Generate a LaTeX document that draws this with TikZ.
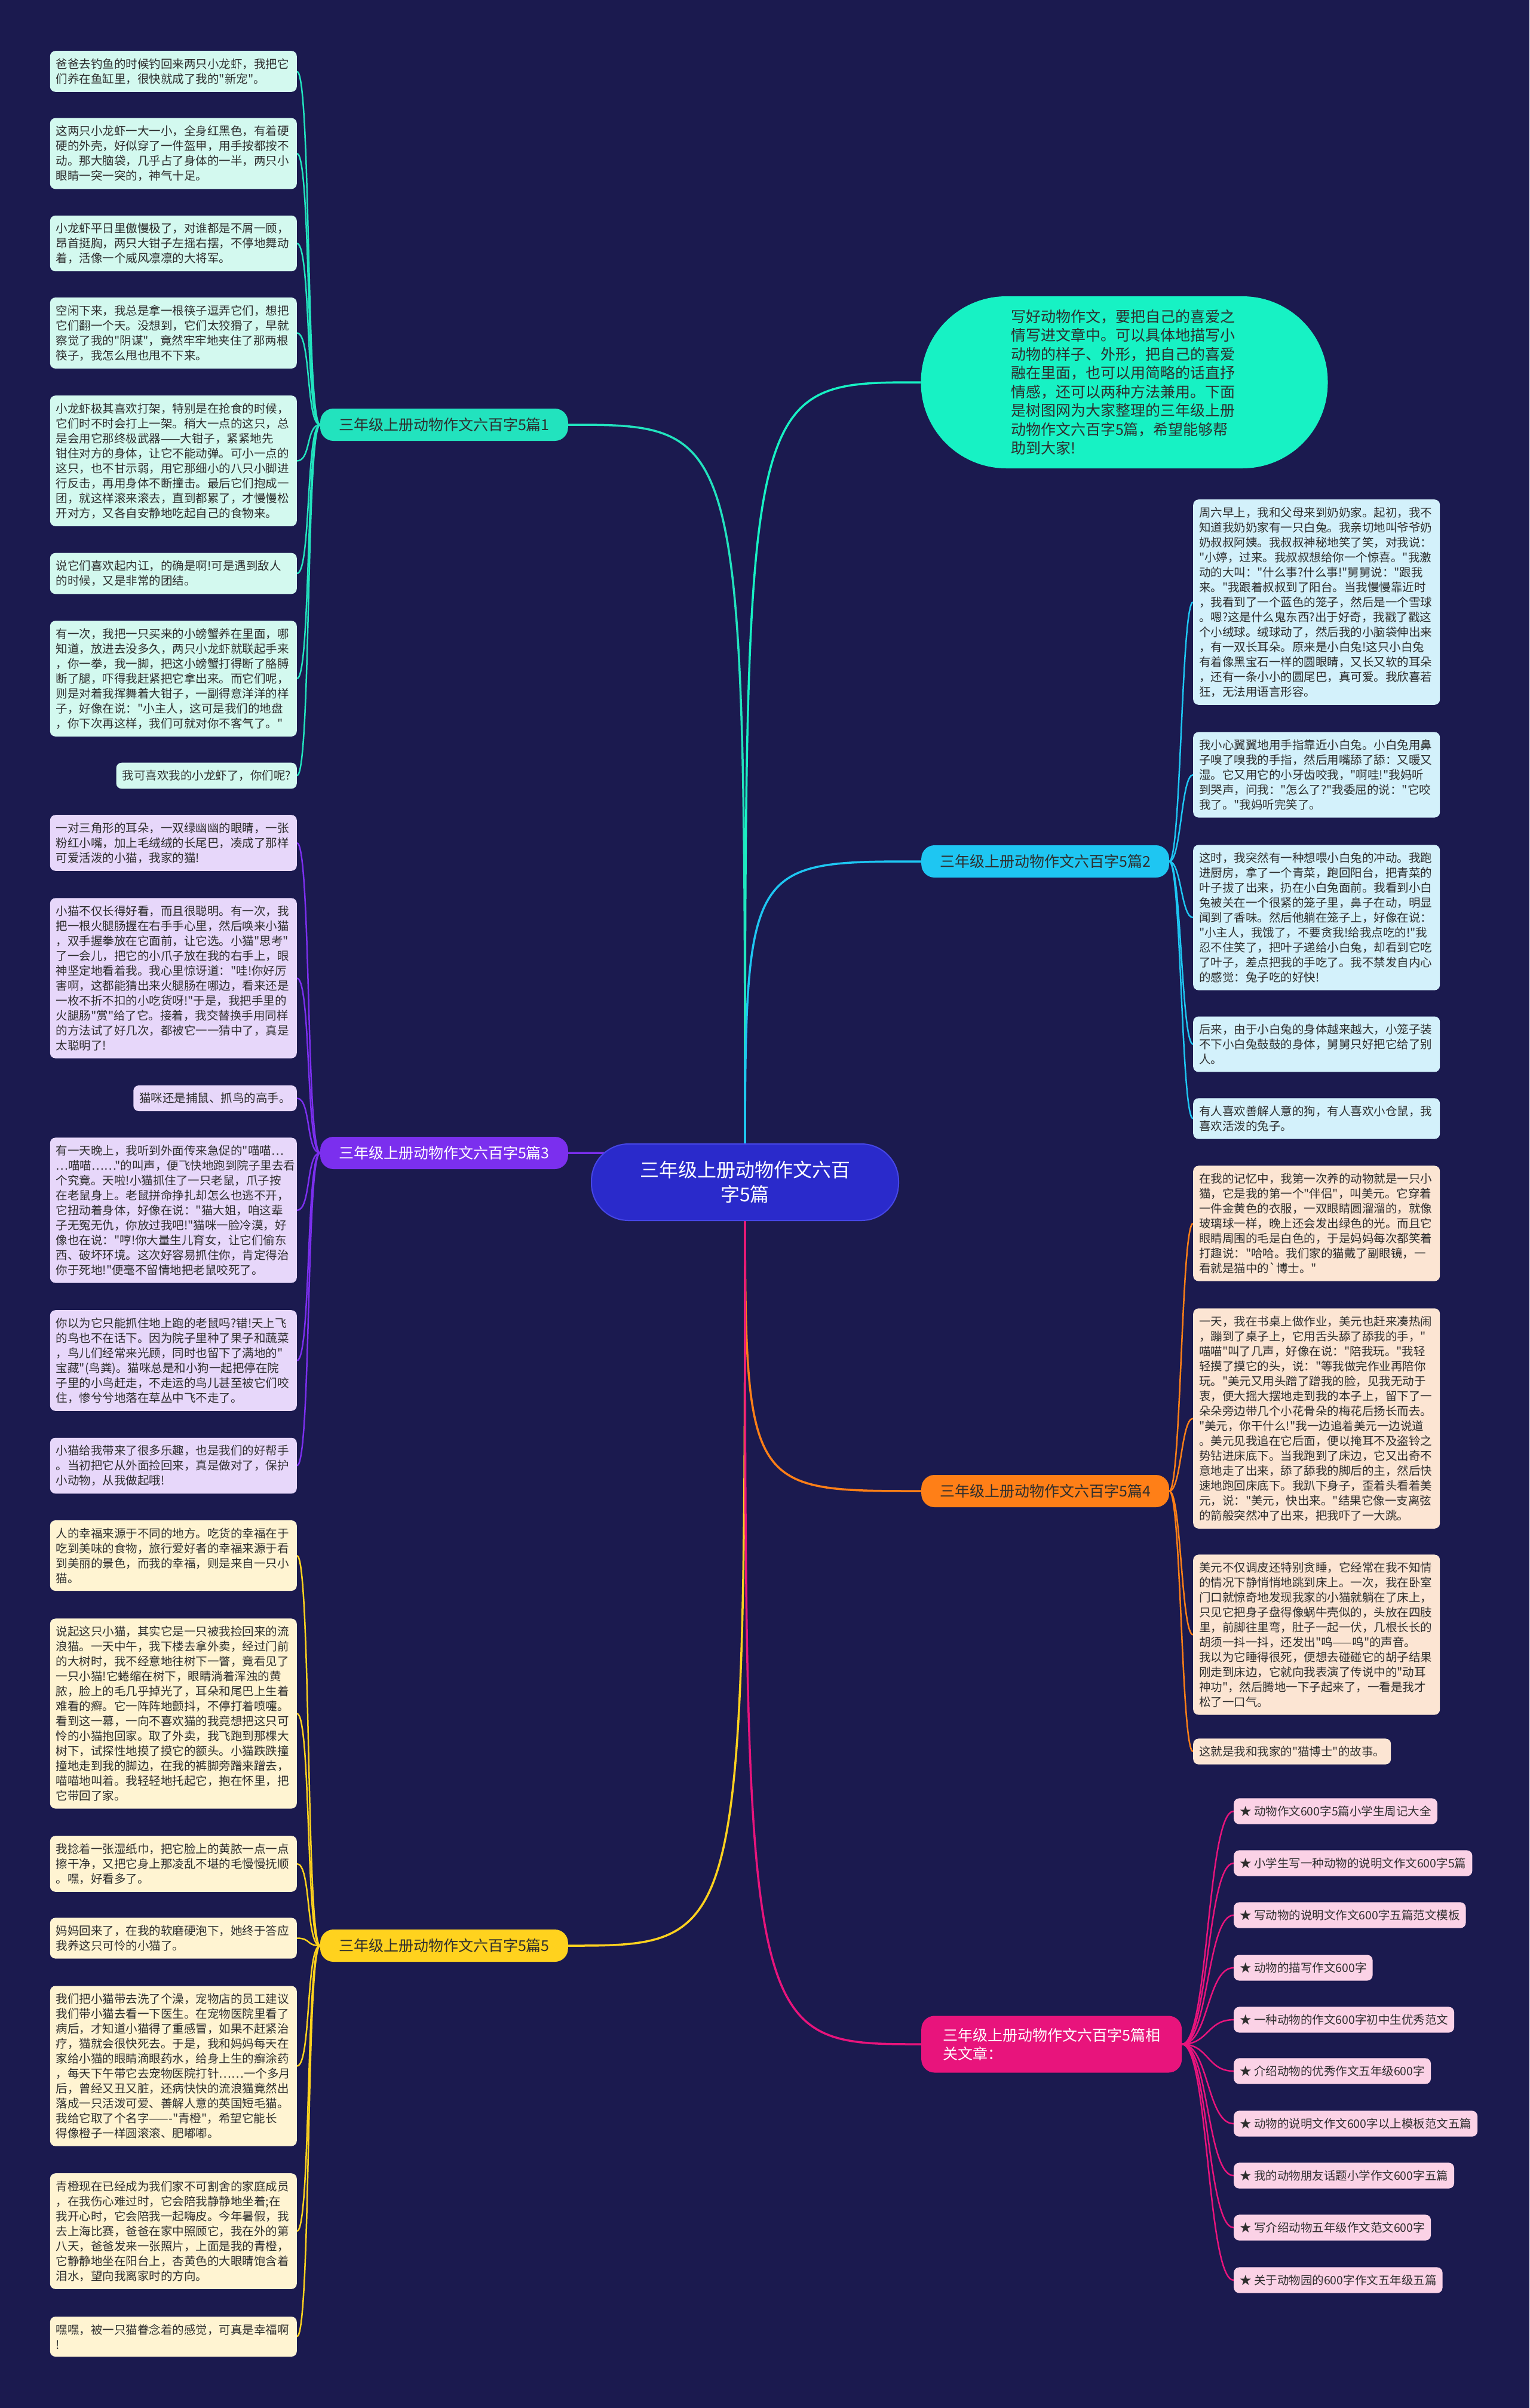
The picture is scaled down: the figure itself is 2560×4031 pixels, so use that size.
\documentclass[tikz,border=0pt]{standalone}
\usepackage{fontspec}
\setmainfont{Noto Sans CJK SC}[Ligatures=TeXOff]
\pgfdeclarelayer{bg}
\pgfdeclarelayer{lines}
\pgfsetlayers{bg,lines,main}
\definecolor{bgc}{HTML}{1B1A4F}
\definecolor{txtc}{HTML}{2E2E2E}
\definecolor{cteal}{HTML}{22E3BE}
\definecolor{cblue}{HTML}{1EC6F2}
\definecolor{cpurple}{HTML}{7B2FEE}
\definecolor{corange}{HTML}{FF7F17}
\definecolor{cyellow}{HTML}{FFD21E}
\definecolor{cmag}{HTML}{E8147C}
\definecolor{lteal}{HTML}{D3F9EF}
\definecolor{lblue}{HTML}{D3F1FB}
\definecolor{lpurple}{HTML}{E7D7FA}
\definecolor{lyellow}{HTML}{FFF4D2}
\definecolor{lorange}{HTML}{FCE5D3}
\definecolor{lpink}{HTML}{FBD2E6}
\definecolor{cctr}{HTML}{2A2ACB}
\definecolor{cintro}{HTML}{17F2C4}
\tikzset{
  leaf/.style={rounded corners=9pt, inner xsep=10pt, inner ysep=12.5pt, font=\fontsize{19.5}{25}\selectfont, text=txtc, align=left},
  wide/.style={text width=393pt},
  tl/.style={leaf, fill=lteal},
  bl/.style={leaf, fill=lblue},
  pl/.style={leaf, fill=lpurple},
  yl/.style={leaf, fill=lyellow},
  ol/.style={leaf, fill=lorange},
  rl/.style={leaf, fill=lpink, anchor=west},
  blab/.style={rounded corners=22pt, inner xsep=31pt, inner ysep=0pt, minimum height=54pt, font=\fontsize{25}{31}\selectfont},
  conn/.style={line width=2.5pt},
  main/.style={line width=3.5pt}
}
\begin{document}
\begin{tikzpicture}[x=1pt,y=-1pt]
\begin{pgfonlayer}{bg}
\fill[bgc] (0,0) rectangle (2560,4031);
\end{pgfonlayer}
\useasboundingbox (0,0) rectangle (2560,4031);

% center and intro
\node[fill=cctr, draw={rgb,255:red,70;green,70;blue,230}, line width=2pt, rounded corners=62pt, minimum width=514pt, minimum height=128pt, text=white, align=center, font=\fontsize{32}{41}\selectfont] (C) at (1247,1979) {三年级上册动物作文六百\\字5篇};
\node[fill=cintro, rounded corners=143pt, minimum width=681pt, minimum height=288pt, text width=380pt, align=left, text=txtc, font=\fontsize{25}{31.5}\selectfont] (I) at (1882,640) {写好动物作文，要把自己的喜爱之\\情写进文章中。可以具体地描写小\\动物的样子、外形，把自己的喜爱\\融在里面，也可以用简略的话直抒\\情感，还可以两种方法兼用。下面\\是树图网为大家整理的三年级上册\\动物作文六百字5篇，希望能够帮\\助到大家!};

% branch labels
\node[blab, fill=cteal, text=txtc, anchor=east] (L1) at (951,711) {三年级上册动物作文六百字5篇1};
\node[blab, fill=cpurple, text=white, anchor=east] (L3) at (951,1930) {三年级上册动物作文六百字5篇3};
\node[blab, fill=cyellow, text=txtc, anchor=east] (L5) at (951,3257) {三年级上册动物作文六百字5篇5};
\node[blab, fill=cblue, text=txtc, anchor=west] (L2) at (1542,1442) {三年级上册动物作文六百字5篇2};
\node[blab, fill=corange, text=txtc, anchor=west] (L4) at (1542,2496) {三年级上册动物作文六百字5篇4};
\node[blab, fill=cmag, text=white, anchor=west, align=left, minimum height=95pt, inner xsep=36pt] (LR) at (1542,3422) {三年级上册动物作文六百字5篇相\\关文章：};

% branch 1 (teal)
\node[tl, wide, anchor=east] (t1) at (497,119.5) {爸爸去钓鱼的时候钓回来两只小龙虾，我把它\\们养在鱼缸里，很快就成了我的"新宠"。};
\node[tl, wide, anchor=east] (t2) at (497,257) {这两只小龙虾一大一小，全身红黑色，有着硬\\硬的外壳，好似穿了一件盔甲，用手按都按不\\动。那大脑袋，几乎占了身体的一半，两只小\\眼睛一突一突的，神气十足。};
\node[tl, wide, anchor=east] (t3) at (497,407.5) {小龙虾平日里傲慢极了，对谁都是不屑一顾，\\昂首挺胸，两只大钳子左摇右摆，不停地舞动\\着，活像一个威风凛凛的大将军。};
\node[tl, wide, anchor=east] (t4) at (497,557.5) {空闲下来，我总是拿一根筷子逗弄它们，想把\\它们翻一个天。没想到，它们太狡猾了，早就\\察觉了我的"阴谋"，竟然牢牢地夹住了那两根\\筷子，我怎么甩也甩不下来。};
\node[tl, wide, anchor=east] (t5) at (497,771.5) {小龙虾极其喜欢打架，特别是在抢食的时候，\\它们时不时会打上一架。稍大一点的这只，总\\是会用它那终极武器——大钳子，紧紧地先\\钳住对方的身体，让它不能动弹。可小一点的\\这只，也不甘示弱，用它那细小的八只小脚进\\行反击，再用身体不断撞击。最后它们抱成一\\团，就这样滚来滚去，直到都累了，才慢慢松\\开对方，又各自安静地吃起自己的食物来。};
\node[tl, wide, anchor=east] (t6) at (497,960) {说它们喜欢起内讧，的确是啊!可是遇到敌人\\的时候，又是非常的团结。};
\node[tl, wide, anchor=east] (t7) at (497,1136) {有一次，我把一只买来的小螃蟹养在里面，哪\\知道，放进去没多久，两只小龙虾就联起手来\\，你一拳，我一脚，把这小螃蟹打得断了胳膊\\断了腿，吓得我赶紧把它拿出来。而它们呢，\\则是对着我挥舞着大钳子，一副得意洋洋的样\\子，好像在说："小主人，这可是我们的地盘\\，你下次再这样，我们可就对你不客气了。"};
\node[tl, anchor=east] (t8) at (497,1298.5) {我可喜欢我的小龙虾了，你们呢?};

% branch 3 (purple)
\node[pl, wide, anchor=east] (p1) at (497,1411) {一对三角形的耳朵，一双绿幽幽的眼睛，一张\\粉红小嘴，加上毛绒绒的长尾巴，凑成了那样\\可爱活泼的小猫，我家的猫!};
\node[pl, wide, anchor=east] (p2) at (497,1637.5) {小猫不仅长得好看，而且很聪明。有一次，我\\把一根火腿肠握在右手手心里，然后唤来小猫\\，双手握拳放在它面前，让它选。小猫"思考"\\了一会儿，把它的小爪子放在我的右手上，眼\\神坚定地看着我。我心里惊讶道："哇!你好厉\\害啊，这都能猜出来火腿肠在哪边，看来还是\\一枚不折不扣的小吃货呀!"于是，我把手里的\\火腿肠"赏"给了它。接着，我交替换手用同样\\的方法试了好几次，都被它一一猜中了，真是\\太聪明了!};
\node[pl, anchor=east] (p3) at (497,1838.5) {猫咪还是捕鼠、抓鸟的高手。};
\node[pl, wide, anchor=east] (p4) at (497,2026) {有一天晚上，我听到外面传来急促的"喵喵…\\…喵喵……"的叫声，便飞快地跑到院子里去看\\个究竟。天啦!小猫抓住了一只老鼠，爪子按\\在老鼠身上。老鼠拼命挣扎却怎么也逃不开，\\它扭动着身体，好像在说："猫大姐，咱这辈\\子无冤无仇，你放过我吧!"猫咪一脸冷漠，好\\像也在说："哼!你大量生儿育女，让它们偷东\\西、破坏环境。这次好容易抓住你，肯定得治\\你于死地!"便毫不留情地把老鼠咬死了。};
\node[pl, wide, anchor=east] (p5) at (497,2277.5) {你以为它只能抓住地上跑的老鼠吗?错!天上飞\\的鸟也不在话下。因为院子里种了果子和蔬菜\\，鸟儿们经常来光顾，同时也留下了满地的"\\宝藏"(鸟粪)。猫咪总是和小狗一起把停在院\\子里的小鸟赶走，不走运的鸟儿甚至被它们咬\\住，惨兮兮地落在草丛中飞不走了。};
\node[pl, wide, anchor=east] (p6) at (497,2453.5) {小猫给我带来了很多乐趣，也是我们的好帮手\\。当初把它从外面捡回来，真是做对了，保护\\小动物，从我做起哦!};

% branch 5 (yellow)
\node[yl, wide, anchor=east] (y1) at (497,2604) {人的幸福来源于不同的地方。吃货的幸福在于\\吃到美味的食物，旅行爱好者的幸福来源于看\\到美丽的景色，而我的幸福，则是来自一只小\\猫。};
\node[yl, wide, anchor=east] (y2) at (497,2868.5) {说起这只小猫，其实它是一只被我捡回来的流\\浪猫。一天中午，我下楼去拿外卖，经过门前\\的大树时，我不经意地往树下一瞥，竟看见了\\一只小猫!它蜷缩在树下，眼睛淌着浑浊的黄\\脓，脸上的毛几乎掉光了，耳朵和尾巴上生着\\难看的癣。它一阵阵地颤抖，不停打着喷嚏。\\看到这一幕，一向不喜欢猫的我竟想把这只可\\怜的小猫抱回家。取了外卖，我飞跑到那棵大\\树下，试探性地摸了摸它的额头。小猫跌跌撞\\撞地走到我的脚边，在我的裤脚旁蹭来蹭去，\\喵喵地叫着。我轻轻地托起它，抱在怀里，把\\它带回了家。};
\node[yl, wide, anchor=east] (y3) at (497,3120) {我捻着一张湿纸巾，把它脸上的黄脓一点一点\\擦干净，又把它身上那凌乱不堪的毛慢慢抚顺\\。嘿，好看多了。};
\node[yl, wide, anchor=east] (y4) at (497,3244.5) {妈妈回来了，在我的软磨硬泡下，她终于答应\\我养这只可怜的小猫了。};
\node[yl, wide, anchor=east] (y5) at (497,3458.5) {我们把小猫带去洗了个澡，宠物店的员工建议\\我们带小猫去看一下医生。在宠物医院里看了\\病后，才知道小猫得了重感冒，如果不赶紧治\\疗，猫就会很快死去。于是，我和妈妈每天在\\家给小猫的眼睛滴眼药水，给身上生的癣涂药\\，每天下午带它去宠物医院打针……一个多月\\后，曾经又丑又脏，还病快快的流浪猫竟然出\\落成一只活泼可爱、善解人意的英国短毛猫。\\我给它取了个名字——-"青橙"，希望它能长\\得像橙子一样圆滚滚、肥嘟嘟。};
\node[yl, wide, anchor=east] (y6) at (497,3735) {青橙现在已经成为我们家不可割舍的家庭成员\\，在我伤心难过时，它会陪我静静地坐着;在\\我开心时，它会陪我一起嗨皮。今年暑假，我\\去上海比赛，爸爸在家中照顾它，我在外的第\\八天，爸爸发来一张照片，上面是我的青橙，\\它静静地坐在阳台上，杏黄色的大眼睛饱含着\\泪水，望向我离家时的方向。};
\node[yl, wide, anchor=east] (y7) at (497,3911.5) {嘿嘿，被一只猫眷念着的感觉，可真是幸福啊\\!};

% branch 2 (blue)
\node[bl, wide, anchor=west] (b1) at (1997,1008) {周六早上，我和父母来到奶奶家。起初，我不\\知道我奶奶家有一只白兔。我亲切地叫爷爷奶\\奶叔叔阿姨。我叔叔神秘地笑了笑，对我说：\\"小婷，过来。我叔叔想给你一个惊喜。"我激\\动的大叫："什么事?什么事!"舅舅说："跟我\\来。"我跟着叔叔到了阳台。当我慢慢靠近时\\，我看到了一个蓝色的笼子，然后是一个雪球\\。嗯?这是什么鬼东西?出于好奇，我戳了戳这\\个小绒球。绒球动了，然后我的小脑袋伸出来\\，有一双长耳朵。原来是小白兔!这只小白兔\\有着像黑宝石一样的圆眼睛，又长又软的耳朵\\，还有一条小小的圆尾巴，真可爱。我欣喜若\\狂，无法用语言形容。};
\node[bl, wide, anchor=west] (b2) at (1997,1297) {我小心翼翼地用手指靠近小白兔。小白兔用鼻\\子嗅了嗅我的手指，然后用嘴舔了舔：又暖又\\湿。它又用它的小牙齿咬我，"啊哇!"我妈听\\到哭声，问我："怎么了?"我委屈的说："它咬\\我了。"我妈听完笑了。};
\node[bl, wide, anchor=west] (b3) at (1997,1536) {这时，我突然有一种想喂小白兔的冲动。我跑\\进厨房，拿了一个青菜，跑回阳台，把青菜的\\叶子拔了出来，扔在小白兔面前。我看到小白\\兔被关在一个很紧的笼子里，鼻子在动，明显\\闻到了香味。然后他躺在笼子上，好像在说：\\"小主人，我饿了，不要贪我!给我点吃的!"我\\忍不住笑了，把叶子递给小白兔，却看到它吃\\了叶子，差点把我的手吃了。我不禁发自内心\\的感觉：兔子吃的好快!};
\node[bl, wide, anchor=west] (b4) at (1997,1748) {后来，由于小白兔的身体越来越大，小笼子装\\不下小白兔鼓鼓的身体，舅舅只好把它给了别\\人。};
\node[bl, wide, anchor=west] (b5) at (1997,1872.5) {有人喜欢善解人意的狗，有人喜欢小仓鼠，我\\喜欢活泼的兔子。};

% branch 4 (orange)
\node[ol, wide, anchor=west] (o1) at (1997,2048) {在我的记忆中，我第一次养的动物就是一只小\\猫，它是我的第一个"伴侣"，叫美元。它穿着\\一件金黄色的衣服，一双眼睛圆溜溜的，就像\\玻璃球一样，晚上还会发出绿色的光。而且它\\眼睛周围的毛是白色的，于是妈妈每次都笑着\\打趣说："哈哈。我们家的猫戴了副眼镜，一\\看就是猫中的`博士。"};
\node[ol, wide, anchor=west] (o2) at (1997,2374.5) {一天，我在书桌上做作业，美元也赶来凑热闹\\，蹦到了桌子上，它用舌头舔了舔我的手，"\\喵喵"叫了几声，好像在说："陪我玩。"我轻\\轻摸了摸它的头，说："等我做完作业再陪你\\玩。"美元又用头蹭了蹭我的脸，见我无动于\\衷，便大摇大摆地走到我的本子上，留下了一\\朵朵旁边带几个小花骨朵的梅花后扬长而去。\\"美元，你干什么!"我一边追着美元一边说道\\。美元见我追在它后面，便以掩耳不及盗铃之\\势钻进床底下。当我跑到了床边，它又出奇不\\意地走了出来，舔了舔我的脚后的主，然后快\\速地跑回床底下。我趴下身子，歪着头看着美\\元，说："美元，快出来。"结果它像一支离弦\\的箭般突然冲了出来，把我吓了一大跳。};
\node[ol, wide, anchor=west] (o3) at (1997,2736.5) {美元不仅调皮还特别贪睡，它经常在我不知情\\的情况下静悄悄地跳到床上。一次，我在卧室\\门口就惊奇地发现我家的小猫就躺在了床上，\\只见它把身子盘得像蜗牛壳似的，头放在四肢\\里，前脚往里弯，肚子一起一伏，几根长长的\\胡须一抖一抖，还发出"呜——呜"的声音。\\我以为它睡得很死，便想去碰碰它的胡子结果\\刚走到床边，它就向我表演了传说中的"动耳\\神功"，然后腾地一下子起来了，一看是我才\\松了一口气。};
\node[ol, anchor=west] (o4) at (1997,2932) {这就是我和我家的"猫博士"的故事。};

% related
\node[rl] (r1) at (2065,3032) {★ 动物作文600字5篇小学生周记大全};
\node[rl] (r2) at (2065,3119) {★ 小学生写一种动物的说明文作文600字5篇};
\node[rl] (r3) at (2065,3206) {★ 写动物的说明文作文600字五篇范文模板};
\node[rl] (r4) at (2065,3294) {★ 动物的描写作文600字};
\node[rl] (r5) at (2065,3381) {★ 一种动物的作文600字初中生优秀范文};
\node[rl] (r6) at (2065,3467) {★ 介绍动物的优秀作文五年级600字};
\node[rl] (r7) at (2065,3555) {★ 动物的说明文作文600字以上模板范文五篇};
\node[rl] (r8) at (2065,3642) {★ 我的动物朋友话题小学作文600字五篇};
\node[rl] (r9) at (2065,3729) {★ 写介绍动物五年级作文范文600字};
\node[rl] (r10) at (2065,3817) {★ 关于动物园的600字作文五年级五篇};

\begin{pgfonlayer}{lines}
% center connectors
\draw[main, cintro] (C.center) .. controls (C.center |- I.west) and (C.center |- I.west) .. (I.west);
\draw[main, cteal] (C.center) .. controls (C.center |- L1.east) and (C.center |- L1.east) .. (L1.east);
\draw[main, cpurple] (C.center) .. controls (C.center |- L3.east) and (C.center |- L3.east) .. (L3.east);
\draw[main, cyellow] (C.center) .. controls (C.center |- L5.east) and (C.center |- L5.east) .. (L5.east);
\draw[main, cblue] (C.center) .. controls (C.center |- L2.west) and (C.center |- L2.west) .. (L2.west);
\draw[main, corange] (C.center) .. controls (C.center |- L4.west) and (C.center |- L4.west) .. (L4.west);
\draw[main, cmag] (C.center) .. controls (C.center |- LR.west) and (C.center |- LR.west) .. (LR.west);
% leaf connectors
\foreach \n in {t1,t2,t3,t4,t5,t6,t7,t8}
  \draw[conn, cteal] (L1.west) .. controls +(-24,0) and +(24,0) .. (\n.east);
\foreach \n in {p1,p2,p3,p4,p5,p6}
  \draw[conn, cpurple] (L3.west) .. controls +(-24,0) and +(24,0) .. (\n.east);
\foreach \n in {y1,y2,y3,y4,y5,y6,y7}
  \draw[conn, cyellow] (L5.west) .. controls +(-24,0) and +(24,0) .. (\n.east);
\foreach \n in {b1,b2,b3,b4,b5}
  \draw[conn, cblue] (L2.east) .. controls +(20,0) and +(-20,0) .. (\n.west);
\foreach \n in {o1,o2,o3,o4}
  \draw[conn, corange] (L4.east) .. controls +(20,0) and +(-20,0) .. (\n.west);
\foreach \n in {r1,r2,r3,r4,r5,r6,r7,r8,r9,r10}
  \draw[conn, cmag] (LR.east) .. controls +(45,0) and +(-45,0) .. (\n.west);
\end{pgfonlayer}
\end{tikzpicture}
\end{document}
